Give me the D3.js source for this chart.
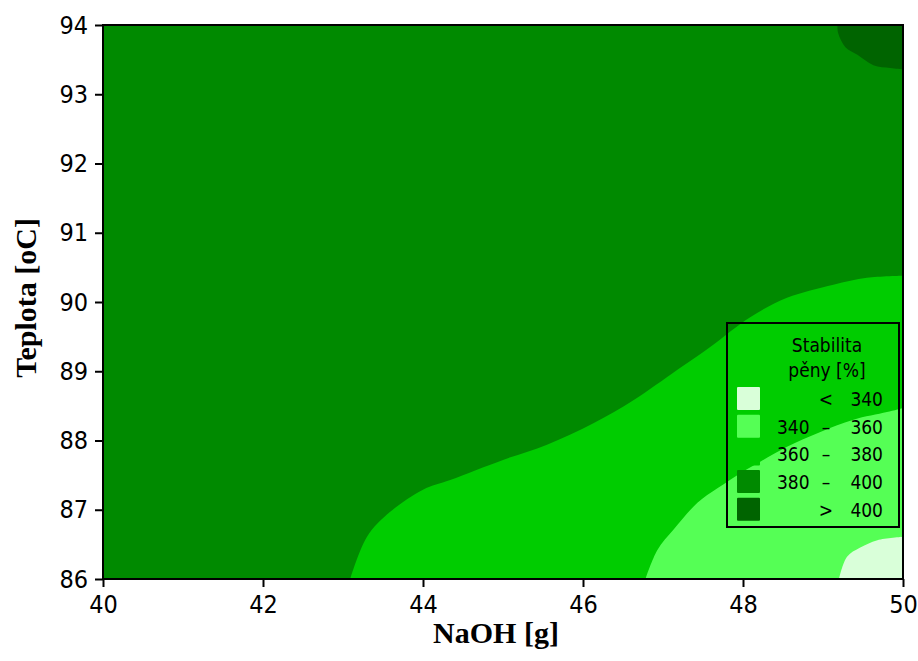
<!DOCTYPE html>
<html>
<head>
<meta charset="utf-8">
<script src="https://cdn.jsdelivr.net/npm/d3@7"></script>
<style>
  body { margin: 0; background: #fff; }
  svg { display: block; }
</style>
</head>
<body>
<div id="chart"></div>
<script>
// Contour boundaries, in data units [NaOH g, Teplota oC]
const contour400 = [[49.18, 94], [49.19, 93.88], [49.28, 93.68], [49.43, 93.57], [49.63, 93.42], [49.84, 93.38], [50, 93.36]];
const contour380 = [[43.09, 86], [43.30, 86.61], [43.59, 86.97], [44.0, 87.29], [44.34, 87.43], [45.0, 87.72], [45.55, 87.94],
  [46.13, 88.25], [46.63, 88.58], [47.18, 89.02], [47.59, 89.35], [48.09, 89.78], [48.55, 90.06], [49.13, 90.25],
  [49.55, 90.35], [50, 90.38]];
const contour360 = [[46.78, 86], [46.93, 86.42], [47.13, 86.71], [47.43, 87.10], [47.68, 87.31], [48.0, 87.55],
  [48.21, 87.69], [48.55, 87.91], [48.96, 88.12], [49.38, 88.30], [49.80, 88.41], [50, 88.47]];
const contour340 = [[49.2, 86], [49.3, 86.32], [49.46, 86.45], [49.68, 86.56], [50, 86.61]];

const legendLabels = [["", "<", "340"], ["340", "–", "360"], ["360", "–", "380"], ["380", "–", "400"], ["", ">", "400"]];
const legendColors = ["#d9ffd9", "#55ff55", "#00cc00", "#008a00", "#006400"];
const xTicks = [40, 42, 44, 46, 48, 50];
const yTicks = [86, 87, 88, 89, 90, 91, 92, 93, 94];

const width = 918, height = 661;
const margin = { top: 25, right: 15, bottom: 82, left: 103 };

const svg = d3.select('#chart').append('svg')
  .attr('width', width)
  .attr('height', height);

const x = d3.scaleLinear().domain([40, 50]).range([margin.left, width - margin.right]);
const y = d3.scaleLinear().domain([86, 94]).range([height - margin.bottom, margin.top]);

// background = 380-400 band
svg.append('rect')
  .attr('x', x(40)).attr('y', y(94))
  .attr('width', x(50) - x(40)).attr('height', y(86) - y(94))
  .attr('fill', legendColors[3]);

const line = d3.line()
  .x(d => x(d[0]))
  .y(d => y(d[1]))
  .curve(d3.curveCatmullRom);

// region path: contour then close along plot corner
const region = (pts, corner) => line(pts) + 'L' + x(corner[0]) + ',' + y(corner[1]) + 'Z';

const regions = [
  { pts: contour380, corner: [50, 86], color: legendColors[2] },
  { pts: contour360, corner: [50, 86], color: legendColors[1] },
  { pts: contour340, corner: [50, 86], color: legendColors[0] },
  { pts: contour400, corner: [50, 94], color: legendColors[4] }
];

svg.append('g').selectAll('path')
  .data(regions)
  .enter().append('path')
  .attr('d', d => region(d.pts, d.corner))
  .attr('fill', d => d.color);

// axes
const tickFont = '"DejaVu Sans Condensed", "DejaVu Sans", sans-serif';

const xAxis = svg.append('g')
  .attr('transform', `translate(0,${y(86)})`)
  .call(d3.axisBottom(x).tickValues(xTicks).tickSize(8).tickPadding(8).tickFormat(d3.format('d')));

const yAxis = svg.append('g')
  .attr('transform', `translate(${x(40)},0)`)
  .call(d3.axisLeft(y).tickValues(yTicks).tickSize(8).tickPadding(7).tickFormat(d3.format('d')));

[xAxis, yAxis].forEach(a => {
  a.select('.domain').remove();
  a.selectAll('line').attr('stroke', '#000').attr('stroke-width', 2);
  a.selectAll('text').attr('fill', '#000').style('font-family', tickFont).style('font-size', '25px');
});

// frame
svg.append('rect')
  .attr('x', x(40)).attr('y', y(94))
  .attr('width', x(50) - x(40)).attr('height', y(86) - y(94))
  .attr('fill', 'none')
  .attr('stroke', '#000')
  .attr('stroke-width', 2);

// axis titles
svg.append('text')
  .attr('x', 496).attr('y', 643)
  .attr('text-anchor', 'middle')
  .style('font-family', '"Liberation Serif", "Times New Roman", serif')
  .style('font-weight', 'bold')
  .style('font-size', '30px')
  .text('NaOH [g]');

svg.append('text')
  .attr('transform', 'translate(36,298) rotate(-90)')
  .attr('text-anchor', 'middle')
  .style('font-family', '"Liberation Serif", "Times New Roman", serif')
  .style('font-weight', 'bold')
  .style('font-size', '30px')
  .text('Teplota [oC]');

// legend
const legend = svg.append('g').attr('transform', 'translate(727,323)');

legend.append('rect')
  .attr('width', 172).attr('height', 204)
  .attr('fill', 'none')
  .attr('stroke', '#000')
  .attr('stroke-width', 2);

legend.append('text')
  .attr('x', 100).attr('y', 29)
  .attr('text-anchor', 'middle')
  .style('font-family', tickFont).style('font-size', '19px')
  .text('Stabilita');

legend.append('text')
  .attr('x', 100).attr('y', 54)
  .attr('text-anchor', 'middle')
  .style('font-family', tickFont).style('font-size', '19px')
  .text('pěny [%]');

const rows = legend.selectAll('g.row')
  .data(legendLabels)
  .enter().append('g')
  .attr('class', 'row')
  .attr('transform', (d, i) => `translate(0,${83 + i * 27.7})`);

rows.append('rect')
  .attr('x', 10).attr('y', -19)
  .attr('width', 23).attr('height', 23)
  .attr('rx', 1)
  .attr('fill', (d, i) => legendColors[i]);

rows.append('text')
  .attr('x', 50)
  .style('font-family', tickFont).style('font-size', '19px')
  .text(d => d[0]);

rows.append('text')
  .attr('x', 99).attr('text-anchor', 'middle')
  .style('font-family', tickFont).style('font-size', '19px')
  .text(d => d[1]);

rows.append('text')
  .attr('x', 156).attr('text-anchor', 'end')
  .style('font-family', tickFont).style('font-size', '19px')
  .text(d => d[2]);
</script>
</body>
</html>
